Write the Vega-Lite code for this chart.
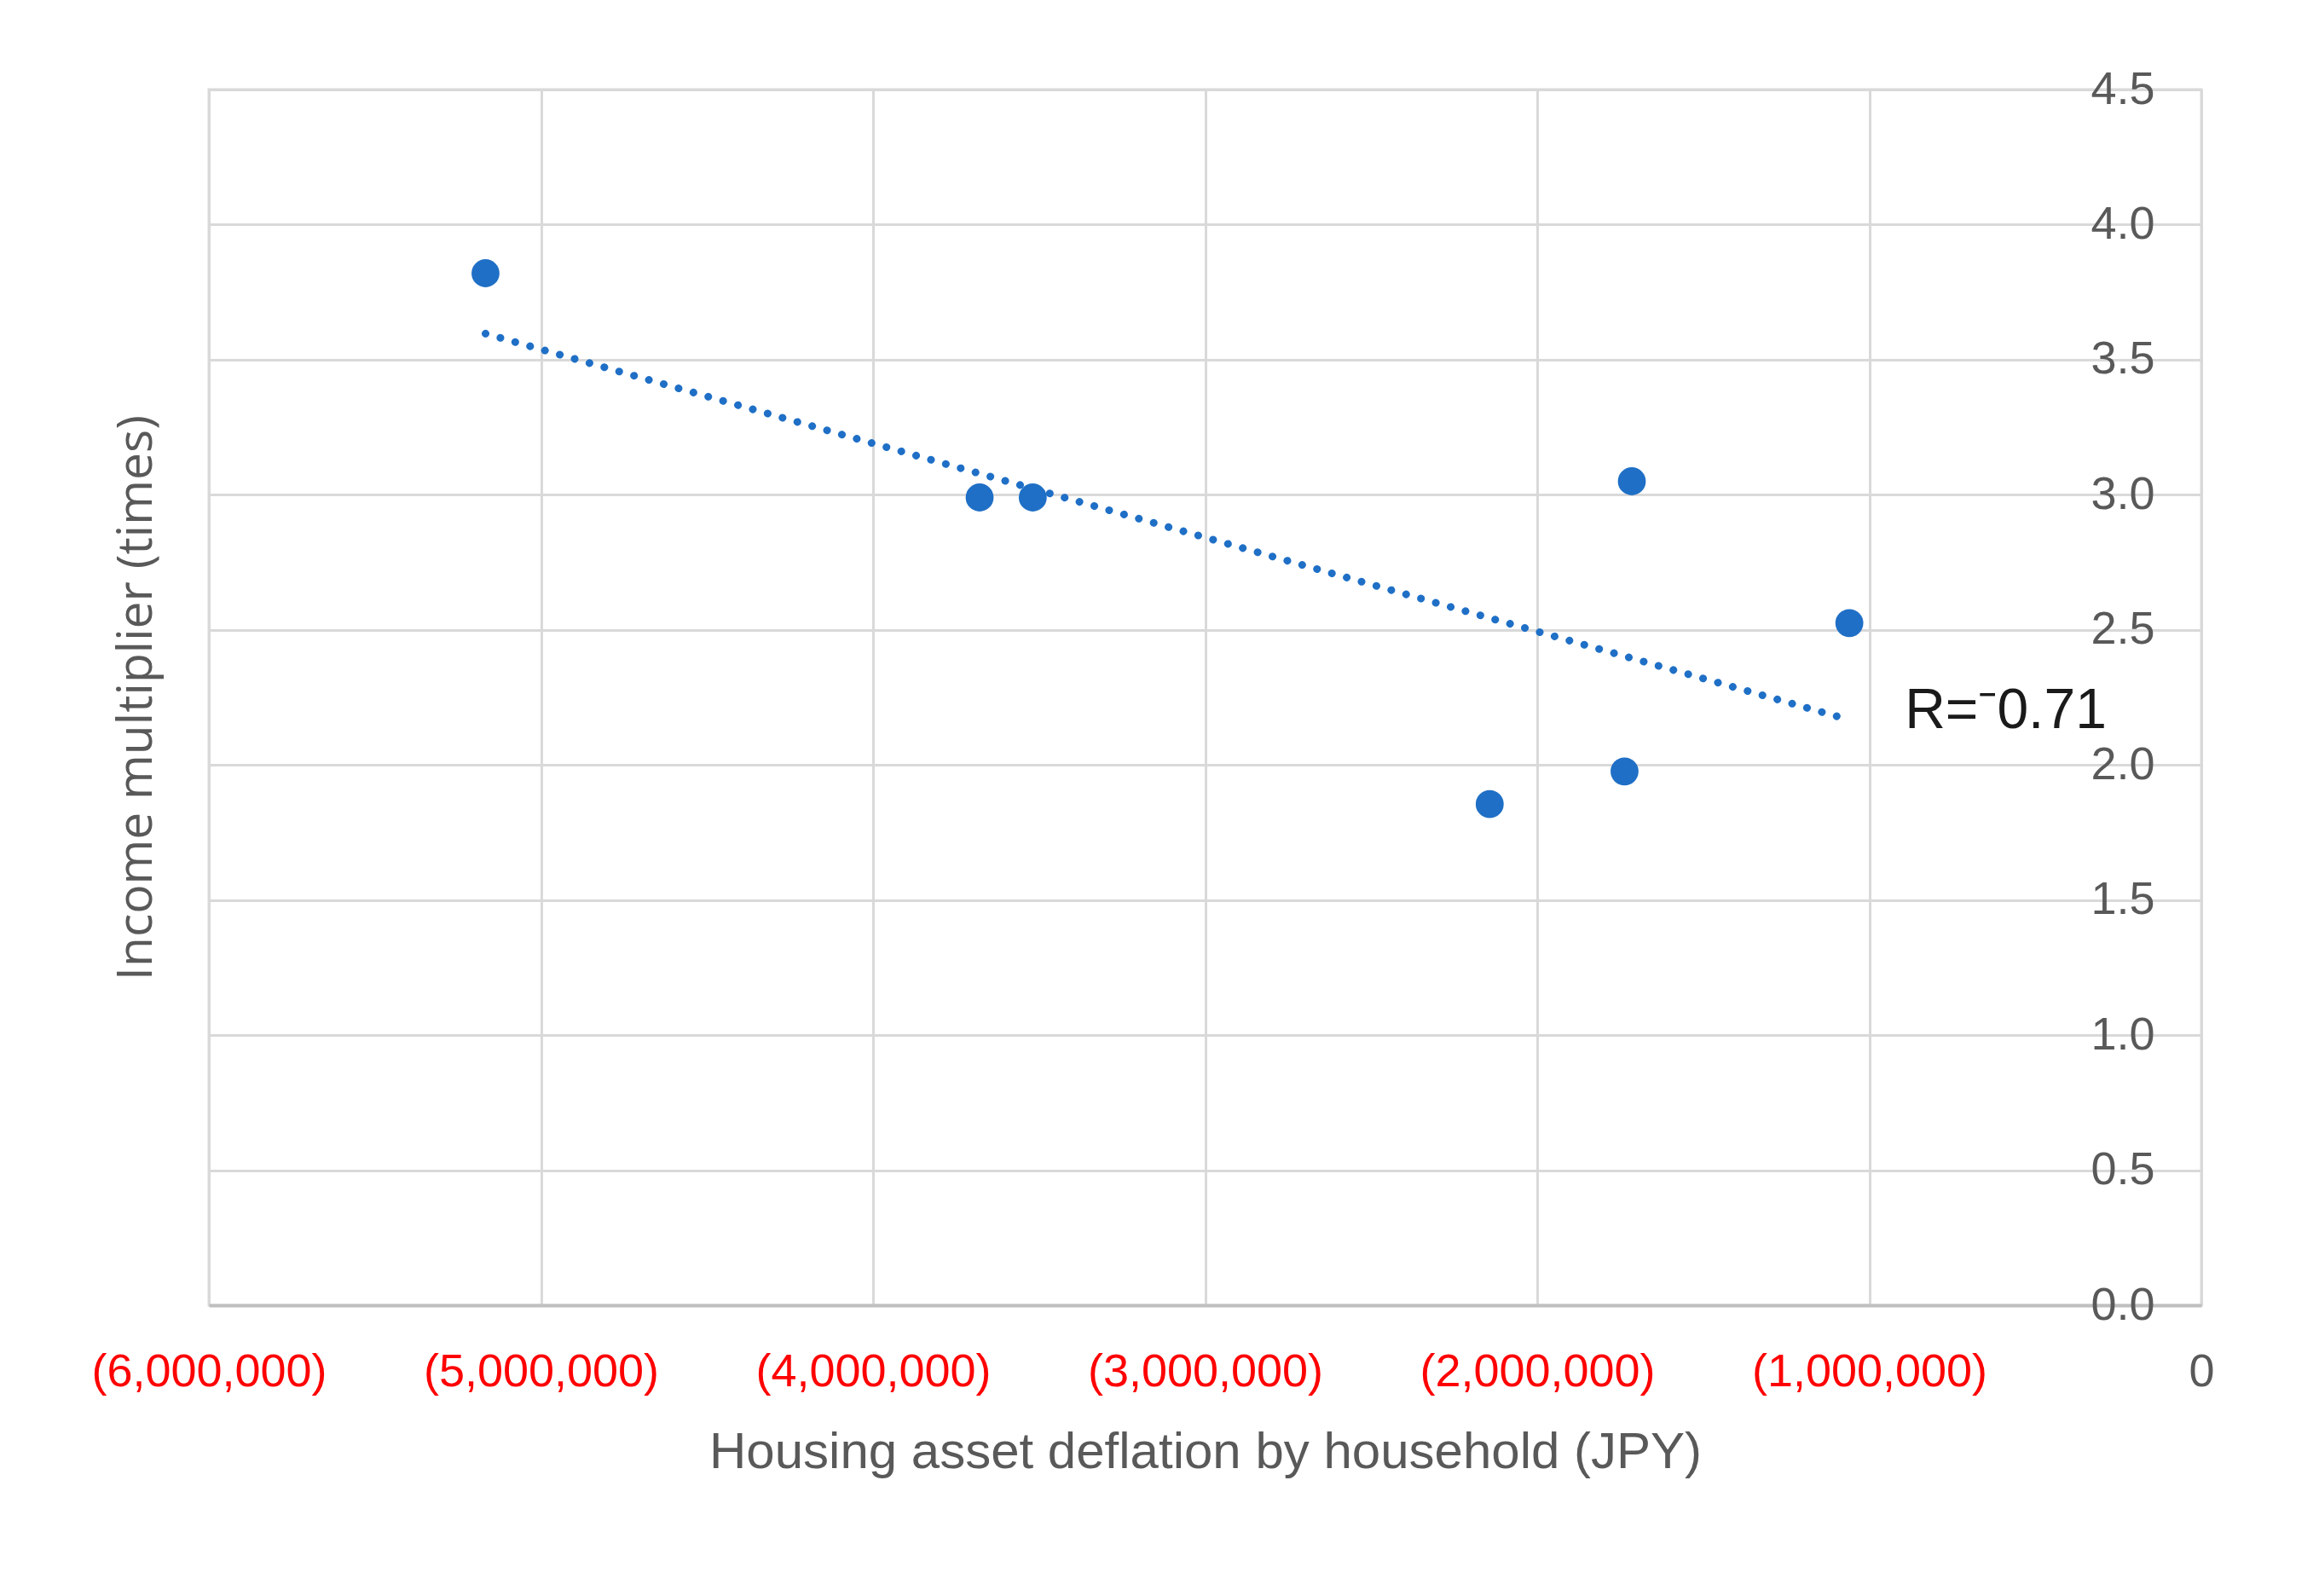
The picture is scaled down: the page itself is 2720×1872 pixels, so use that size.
{
  "$schema": "https://vega.github.io/schema/vega-lite/v6.json",
  "width": 2337,
  "height": 1426,
  "autosize": {"type": "none"},
  "padding": {"left": 245, "top": 105, "right": 138, "bottom": 341},
  "background": "white",
  "config": {
    "view": {"stroke": "#d9d9d9", "strokeWidth": 3},
    "font": "Liberation Sans"
  },
  "data": {
    "values": [
      {"deflation": -5167000, "income_multiplier": 3.82},
      {"deflation": -3679000, "income_multiplier": 2.99},
      {"deflation": -3519000, "income_multiplier": 2.99},
      {"deflation": -1715000, "income_multiplier": 3.05},
      {"deflation": -1060000, "income_multiplier": 2.525},
      {"deflation": -1737000, "income_multiplier": 1.976},
      {"deflation": -2143000, "income_multiplier": 1.855}
    ]
  },
  "encoding": {
    "x": {
      "field": "deflation",
      "type": "quantitative",
      "title": "Housing asset deflation by household (JPY)",
      "scale": {"domain": [-6000000, 0], "nice": false, "zero": false},
      "axis": {
        "values": [-6000000, -5000000, -4000000, -3000000, -2000000, -1000000, 0],
        "labelExpr": "datum.value < 0 ? '(' + format(-datum.value, ',') + ')' : format(datum.value, ',')",
        "labelColor": {"condition": {"test": "datum.value < 0", "value": "#ff0000"}, "value": "#595959"},
        "labelFont": "Liberation Sans",
        "labelFontSize": 54,
        "labelBaseline": "middle",
        "labelPadding": 78,
        "labelLimit": 0,
        "labelFlush": false,
        "labelOverlap": false,
        "labelBound": false,
        "ticks": false,
        "tickSize": 0,
        "grid": true,
        "gridColor": "#d9d9d9",
        "gridWidth": 3,
        "domain": true,
        "domainColor": "#bfbfbf",
        "domainWidth": 4,
        "titleFont": "Liberation Sans",
        "titleFontSize": 60,
        "titleFontWeight": "normal",
        "titleColor": "#595959",
        "titleBaseline": "middle",
        "titleAlign": "center",
        "titleLimit": 0,
        "titleY": 172
      }
    },
    "y": {
      "field": "income_multiplier",
      "type": "quantitative",
      "title": "Income multiplier (times)",
      "scale": {"domain": [0, 4.5], "nice": false},
      "axis": {
        "orient": "right",
        "values": [0, 0.5, 1, 1.5, 2, 2.5, 3, 3.5, 4, 4.5],
        "format": ".1f",
        "labelColor": "#595959",
        "labelFont": "Liberation Sans",
        "labelFontSize": 54,
        "labelAlign": "right",
        "labelBaseline": "middle",
        "labelPadding": -55,
        "labelLimit": 0,
        "labelFlush": false,
        "labelOverlap": false,
        "labelBound": false,
        "ticks": false,
        "tickSize": 0,
        "domain": false,
        "grid": true,
        "gridColor": "#d9d9d9",
        "gridWidth": 3,
        "titleFont": "Open Sans",
        "titleFontSize": 57,
        "titleFontWeight": "normal",
        "titleColor": "#595959",
        "titleAngle": 270,
        "titleAlign": "center",
        "titleBaseline": "middle",
        "titleLimit": 0,
        "titleX": -2422,
        "titleY": 713
      }
    }
  },
  "layer": [
    {
      "transform": [{"regression": "income_multiplier", "on": "deflation"}],
      "mark": {"type": "line", "color": "#1f6fc6", "strokeWidth": 9, "strokeDash": [0.1, 18], "strokeCap": "round"}
    },
    {
      "mark": {"type": "circle", "size": 1075, "opacity": 1, "color": "#1f6fc6"}
    },
    {
      "data": {"values": [{"deflation": -893000, "income_multiplier": 2.2, "label": "R=⁻0.71"}]},
      "mark": {"type": "text", "align": "left", "baseline": "middle", "font": "Liberation Sans", "fontSize": 66, "color": "#1a1a1a"},
      "encoding": {"text": {"field": "label"}}
    }
  ]
}
